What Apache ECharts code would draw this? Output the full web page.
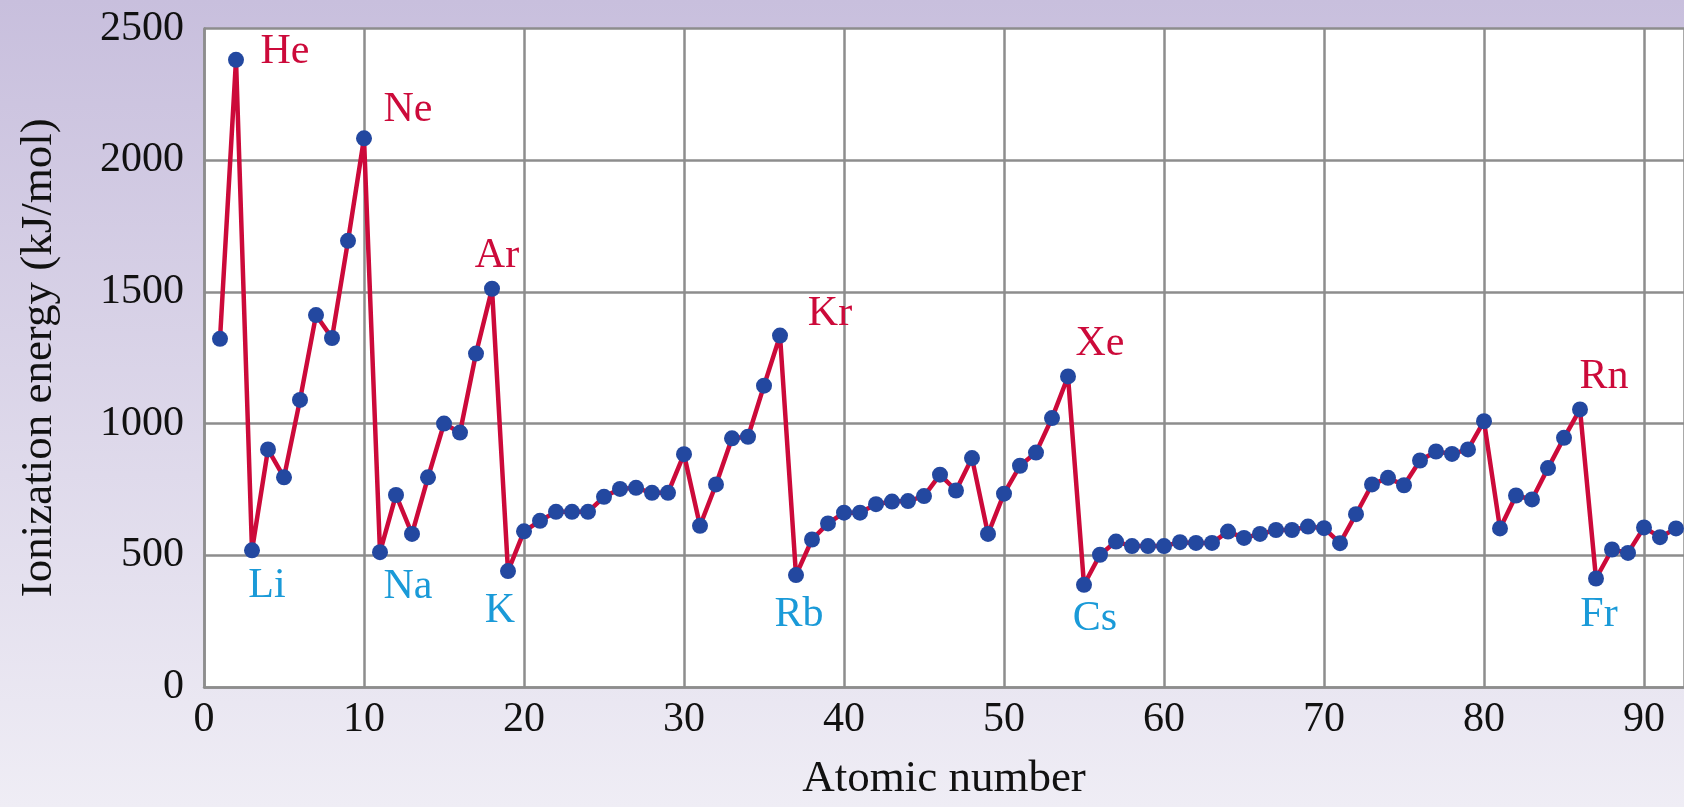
<!DOCTYPE html>
<html>
<head>
<meta charset="utf-8">
<script src="https://cdn.jsdelivr.net/npm/echarts@6/dist/echarts.min.js"></script>
<style>
  html, body { margin: 0; padding: 0; }
  #chart { width: 1684px; height: 807px; }
</style>
</head>
<body>
<div id="chart"></div>
<script>
// ---- data ----
const atomicNumbers = [
  1, 2, 3, 4, 5, 6, 7, 8, 9, 10,
  11, 12, 13, 14, 15, 16, 17, 18, 19, 20,
  21, 22, 23, 24, 25, 26, 27, 28, 29, 30,
  31, 32, 33, 34, 35, 36, 37, 38, 39, 40,
  41, 42, 43, 44, 45, 46, 47, 48, 49, 50,
  51, 52, 53, 54, 55, 56, 57, 58, 59, 60,
  61, 62, 63, 64, 65, 66, 67, 68, 69, 70,
  71, 72, 73, 74, 75, 76, 77, 78, 79, 80,
  81, 82, 83, 84, 85, 86, 87, 88, 89, 90,
  91, 92
];
const ionizationEnergy = [
  1322, 2381, 519, 902, 796, 1090, 1412, 1325, 1694, 2083,
  512, 729, 581, 796, 1000, 966, 1266, 1512, 440, 591,
  631, 665, 665, 665, 722, 752, 756, 737, 737, 884,
  612, 769, 944, 950, 1144, 1334, 425, 560, 621, 662,
  662, 694, 704, 706, 725, 806, 746, 869, 581, 734,
  840, 890, 1021, 1179, 388, 502, 552, 535, 535, 535,
  550, 547, 547, 590, 566, 581, 596, 596, 609, 603,
  546, 656, 769, 794, 766, 860, 894, 885, 902, 1009,
  602, 727, 712, 831, 946, 1054, 412, 522, 509, 606,
  569, 602
];
const nobleGasNumbers = [2, 10, 18, 36, 54, 86];
const nobleGasSymbols = ['He', 'Ne', 'Ar', 'Kr', 'Xe', 'Rn'];
const alkaliNumbers = [3, 11, 19, 37, 55, 87];
const alkaliSymbols = ['Li', 'Na', 'K', 'Rb', 'Cs', 'Fr'];
const xTicks = [0, 10, 20, 30, 40, 50, 60, 70, 80, 90];
const yTicks = [0, 500, 1000, 1500, 2000, 2500];

// ---- styles ----
const FONT = 'Liberation Serif';
const LINE_COLOR = '#cc0a3a';
const DOT_COLOR = '#2348a0';
const ALKALI_COLOR = '#1a9ad8';
const GRID_COLOR = '#8d8d8d';
const labelOffsets = {
  He: [49, -8], Ne: [44, -28], Ar: [5, -33], Kr: [50, -22], Xe: [32, -32], Rn: [24, -32],
  Li: [15, 36], Na: [28, 35], K: [-8, 40], Rb: [3, 40], Cs: [11, 34], Fr: [3, 36]
};

function labelFor(num) {
  let i = nobleGasNumbers.indexOf(num);
  if (i >= 0) return { text: nobleGasSymbols[i], color: LINE_COLOR };
  i = alkaliNumbers.indexOf(num);
  if (i >= 0) return { text: alkaliSymbols[i], color: ALKALI_COLOR };
  return null;
}

const seriesData = atomicNumbers.map((n, k) => {
  const item = { value: [n, ionizationEnergy[k]] };
  const lb = labelFor(n);
  if (lb) {
    item.label = {
      show: true,
      formatter: lb.text,
      color: lb.color,
      position: 'inside',
      align: 'center',
      verticalAlign: 'middle',
      offset: labelOffsets[lb.text],
      fontFamily: FONT,
      fontSize: 42
    };
  }
  return item;
});

const chart = echarts.init(document.getElementById('chart'), null, { renderer: 'canvas' });
chart.setOption({
  animation: false,
  backgroundColor: {
    type: 'linear', x: 0, y: 0, x2: 0, y2: 1,
    colorStops: [
      { offset: 0, color: '#c8bfdd' },
      { offset: 1, color: '#efedf5' }
    ]
  },
  grid: {
    left: 204, top: 28.5, right: 0, bottom: 112,
    show: true, backgroundColor: '#ffffff', borderWidth: 0,
    containLabel: false
  },
  xAxis: {
    type: 'value',
    min: 0, max: 92.5, interval: 10,
    name: 'Atomic number',
    nameLocation: 'middle',
    nameGap: 70,
    nameTextStyle: { fontFamily: FONT, fontSize: 45, color: '#111' },
    axisLine: { show: true, lineStyle: { color: GRID_COLOR, width: 2.5 } },
    axisTick: { show: false },
    splitLine: { show: true, lineStyle: { color: GRID_COLOR, width: 2.5 } },
    axisLabel: {
      showMaxLabel: false,
      margin: 12,
      fontFamily: FONT, fontSize: 42, color: '#111',
      formatter: v => (xTicks.indexOf(v) >= 0 ? String(v) : '')
    }
  },
  yAxis: {
    type: 'value',
    min: 0, max: 2500, interval: 500,
    name: 'Ionization energy (kJ/mol)',
    nameLocation: 'middle',
    nameGap: 142,
    nameTextStyle: { fontFamily: FONT, fontSize: 45, color: '#111' },
    axisLine: { show: true, lineStyle: { color: GRID_COLOR, width: 2.5 } },
    axisTick: { show: false },
    splitLine: { show: true, lineStyle: { color: GRID_COLOR, width: 2.5 } },
    axisLabel: {
      margin: 20,
      fontFamily: FONT, fontSize: 42, color: '#111',
      formatter: v => (yTicks.indexOf(v) >= 0 ? String(v) : '')
    }
  },
  series: [{
    type: 'line',
    data: seriesData,
    symbol: 'circle',
    symbolSize: 16,
    showAllSymbol: true,
    lineStyle: { color: LINE_COLOR, width: 4.5 },
    itemStyle: { color: DOT_COLOR, borderWidth: 0 },
    label: { show: false },
    emphasis: { disabled: true },
    z: 3
  }]
});
</script>
</body>
</html>
